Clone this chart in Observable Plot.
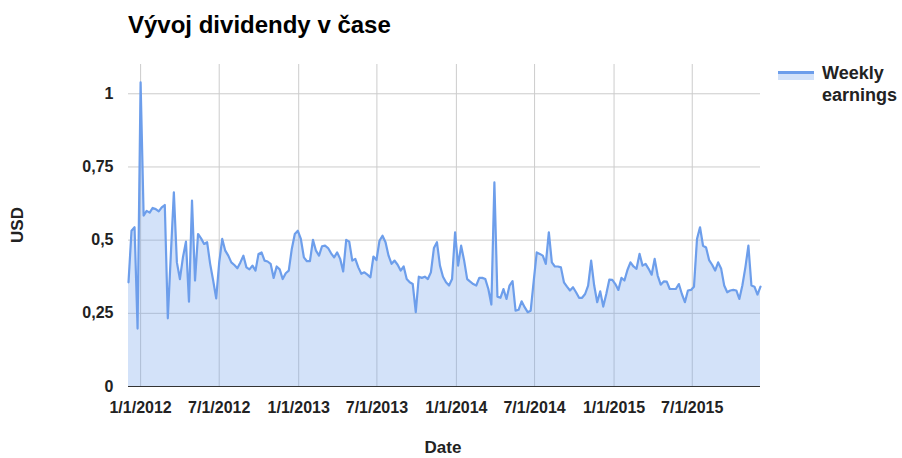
<!DOCTYPE html>
<html><head><meta charset="utf-8">
<script src="https://cdn.jsdelivr.net/npm/d3@7"></script>
<script src="https://cdn.jsdelivr.net/npm/@observablehq/plot@0.6"></script>
<style>
body{margin:0;background:#fff;font-family:"Liberation Sans",Arial,sans-serif;}
#wrap{position:relative;width:902px;height:458px;overflow:hidden;}
#wrap svg{position:absolute;left:0;top:0;}
.t{position:absolute;font-weight:bold;color:#222;white-space:nowrap;}
</style></head><body>
<div id="wrap"></div>
<script>
const chartTitle = "Vývoj dividendy v čase";
const seriesName = ["Weekly", "earnings"];
const xLabel = "Date";
const yLabel = "USD";
const startDate = "2011-12-04"; // first weekly observation (Sunday)
const weeklyEarnings = [
0.356,0.532,0.544,0.198,1.039,0.584,0.600,0.594,0.610,0.606,
0.598,0.612,0.620,0.233,0.450,0.663,0.424,0.367,0.441,0.495,
0.290,0.635,0.362,0.521,0.506,0.487,0.493,0.419,0.362,0.301,
0.424,0.504,0.464,0.447,0.424,0.415,0.404,0.424,0.447,0.407,
0.400,0.413,0.396,0.453,0.458,0.430,0.427,0.419,0.371,0.410,
0.400,0.367,0.387,0.396,0.470,0.521,0.532,0.504,0.441,0.428,
0.428,0.501,0.464,0.447,0.479,0.481,0.473,0.455,0.441,0.458,
0.436,0.393,0.501,0.495,0.430,0.436,0.407,0.385,0.390,0.382,
0.373,0.444,0.432,0.498,0.515,0.493,0.447,0.419,0.430,0.416,
0.396,0.410,0.367,0.356,0.350,0.254,0.375,0.371,0.375,0.367,
0.390,0.473,0.493,0.413,0.375,0.356,0.345,0.367,0.527,0.413,
0.481,0.430,0.367,0.358,0.350,0.345,0.371,0.371,0.367,0.333,
0.280,0.697,0.307,0.303,0.333,0.299,0.345,0.360,0.259,0.262,
0.291,0.271,0.254,0.259,0.360,0.458,0.453,0.447,0.419,0.527,
0.424,0.410,0.410,0.407,0.356,0.341,0.328,0.339,0.322,0.303,
0.303,0.316,0.345,0.430,0.345,0.288,0.325,0.273,0.316,0.365,
0.364,0.350,0.330,0.371,0.362,0.398,0.424,0.410,0.402,0.453,
0.413,0.419,0.402,0.382,0.436,0.379,0.348,0.359,0.358,0.333,
0.333,0.333,0.350,0.316,0.288,0.328,0.330,0.341,0.504,0.544,
0.481,0.475,0.432,0.416,0.396,0.424,0.402,0.345,0.322,0.328,
0.330,0.328,0.299,0.345,0.407,0.481,0.345,0.341,0.314,0.341
];
const yTicks = [0, 0.25, 0.5, 0.75, 1];
const yTickLabels = ["0", "0,25", "0,5", "0,75", "1"];
const xTicks = ["2012-01-01","2012-07-01","2013-01-01","2013-07-01","2014-01-01","2014-07-01","2015-01-01","2015-07-01"];
const xTickLabels = ["1/1/2012","7/1/2012","1/1/2013","7/1/2013","1/1/2014","7/1/2014","1/1/2015","7/1/2015"];

const lineColor = "#6d9eeb";
const start = new Date(startDate + "T00:00:00Z");
const data = weeklyEarnings.map((v, i) => ({date: d3.utcWeek.offset(start, i), value: v}));
const xTickDates = xTicks.map(s => new Date(s + "T00:00:00Z"));

const chart = Plot.plot({
  width: 902, height: 458,
  marginLeft: 128, marginRight: 142, marginTop: 64, marginBottom: 72,
  x: {type: "utc", domain: [data[0].date, data[data.length - 1].date]},
  y: {domain: [0, 1.1]},
  style: {fontFamily: "'Liberation Sans', Arial, sans-serif", fontSize: "16px", fontWeight: "bold", color: "#222", background: "white"},
  marks: [
    Plot.gridY(yTicks.slice(1), {stroke: "#cccccc", strokeOpacity: 1}),
    Plot.gridX(xTickDates, {stroke: "#cccccc", strokeOpacity: 1}),
    Plot.areaY(data, {x: "date", y: "value", fill: lineColor, fillOpacity: 0.3}),
    Plot.lineY(data, {x: "date", y: "value", stroke: lineColor, strokeWidth: 2.2}),
    Plot.ruleY([0], {stroke: "#333"}),
    Plot.axisY(yTicks, {tickSize: 0, tickPadding: 15, label: null,
      tickFormat: d => yTickLabels[yTicks.indexOf(d)]}),
    Plot.axisX(xTickDates, {tickSize: 0, tickPadding: 15, label: null,
      tickFormat: d => xTickLabels[xTickDates.findIndex(t => +t === +d)]})
  ]
});
const wrap = document.getElementById("wrap");
wrap.appendChild(chart);

function addText(txt, css) {
  const d = document.createElement("div");
  d.className = "t";
  d.textContent = txt;
  Object.assign(d.style, css);
  wrap.appendChild(d);
  return d;
}
addText(chartTitle, {left: "128px", top: "10px", fontSize: "24px", lineHeight: "30px", color: "#000"});
addText(xLabel, {left: "443px", top: "437px", fontSize: "17px", lineHeight: "22px", transform: "translateX(-50%)"});
addText(yLabel, {left: "18px", top: "225px", fontSize: "17px", lineHeight: "22px", transform: "translate(-50%,-50%) rotate(-90deg)"});
addText(seriesName[0], {left: "822px", top: "62px", fontSize: "18px", lineHeight: "22px"});
addText(seriesName[1], {left: "822px", top: "84px", fontSize: "18px", lineHeight: "22px"});
// legend swatch
const sw = document.createElementNS("http://www.w3.org/2000/svg", "svg");
sw.setAttribute("width", 36); sw.setAttribute("height", 10);
sw.style.position = "absolute"; sw.style.left = "778px"; sw.style.top = "71px";
sw.innerHTML = `<rect x="0" y="1" width="36" height="8" fill="${lineColor}" fill-opacity="0.3"></rect><line x1="0" x2="36" y1="1.5" y2="1.5" stroke="${lineColor}" stroke-width="3"></line>`;
wrap.appendChild(sw);
</script>
</body></html>
